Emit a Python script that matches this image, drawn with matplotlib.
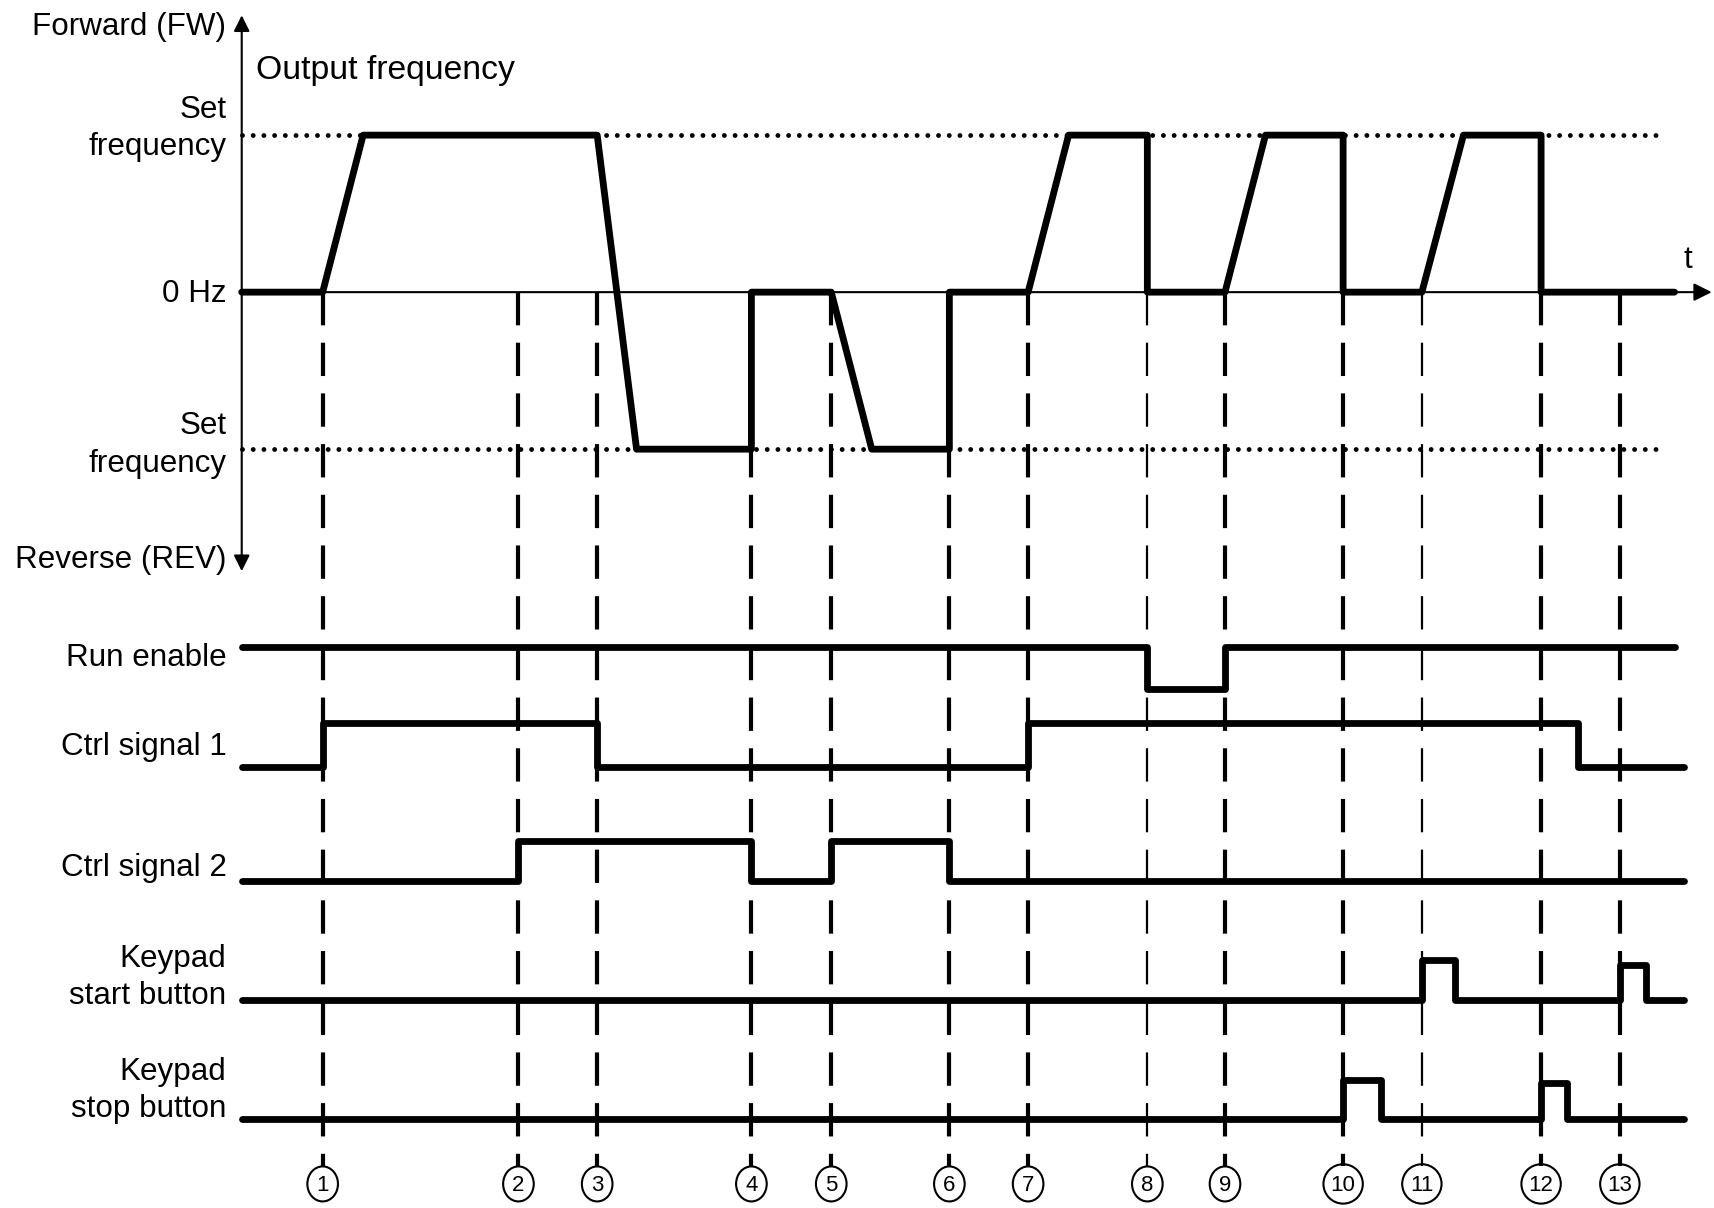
import matplotlib
matplotlib.use('Agg')
import matplotlib.pyplot as plt
from matplotlib.patches import Ellipse

plt.rcParams['font.family'] = ['Liberation Sans', 'DejaVu Sans']
plt.rcParams['lines.scale_dashes'] = False

# ---------------- data ----------------
event_labels = ['1', '2', '3', '4', '5', '6', '7', '8', '9', '10', '11', '12', '13']
event_t = [74, 253, 325, 466, 539, 647, 719, 828, 899, 1007, 1079, 1188, 1260]
event_thin = ['8', '11']

# output frequency (+1 = forward set frequency, -1 = reverse set frequency)
freq_t = [0, 74, 111, 325, 361, 466, 466, 539, 576, 647, 647, 719, 756, 828, 828,
          899, 936, 1007, 1007, 1079, 1117, 1188, 1188, 1310]
freq_v = [0, 0, 1, 1, -1, -1, 0, 0, -1, -1, 0, 0, 1, 1, 0,
          0, 1, 1, 0, 0, 1, 1, 0, 0]
set_freq_end = 1297

# digital signals (step-post)
run_t = [0, 828, 899, 1310]
run_v = [1, 0, 1, 1]
ctrl1_t = [0, 74, 325, 719, 1222, 1319]
ctrl1_v = [0, 1, 0, 1, 0, 0]
ctrl2_t = [0, 253, 466, 539, 647, 1319]
ctrl2_v = [0, 1, 0, 1, 0, 0]
start_t = [0, 1079, 1109, 1260, 1284, 1319]
start_v = [0, 1, 0, 0.86, 0, 0]
stop_t = [0, 1007, 1042, 1188, 1212, 1319]
stop_v = [0, 1, 0, 0.93, 0, 0]

signal_labels = ['Run enable', 'Ctrl signal 1', 'Ctrl signal 2',
                 'Keypad\nstart button', 'Keypad\nstop button']

# ---------------- layout (in display pixel units of a 1568x1104 canvas) ----------------
W, H = 1568, 1104
T0 = 221
XLIM = (-T0, W - T0)
ZERO_Y = 267
FREQ_SCALE = 143.5
rows = [(630, 591), (701, 661), (805, 769), (914, 877), (1023, 987)]  # (low y, high y)
label_y = [601.5, 682.5, 793.5, 893.5, 996.5]
LABEL_X = -14
FS = 22.6
LS = 1.33
LW_THICK = 4.9

fig = plt.figure(figsize=(17.15, 12.08), dpi=100)


def full_axes(ylim):
    ax = fig.add_axes([0, 0, 1, 1])
    ax.set_xlim(*XLIM)
    ax.set_ylim(*ylim)
    ax.axis('off')
    ax.patch.set_alpha(0)
    return ax


# overlay axes: y in canvas pixels (downwards)
ov = full_axes((H, 0))

# y axis with arrows both ways
ov.annotate('', xy=(0, 14), xytext=(0, ZERO_Y),
            arrowprops=dict(arrowstyle='-|>', lw=1.5, color='black', mutation_scale=24,
                            shrinkA=0, shrinkB=0))
ov.annotate('', xy=(0, 522), xytext=(0, ZERO_Y),
            arrowprops=dict(arrowstyle='-|>', lw=1.5, color='black', mutation_scale=24,
                            shrinkA=0, shrinkB=0))

# dashed event lines and numbered circles
for lab, t in zip(event_labels, event_t):
    thin = lab in event_thin
    ov.plot([t, t], [ZERO_Y, 1066], color='black', lw=1.6 if thin else 3.0,
            linestyle=(0, (24, 12.5)), solid_capstyle='butt', zorder=2)
    w, h = (28, 32) if len(lab) == 1 else (36, 36)
    ov.add_patch(Ellipse((t, 1082), w, h, fill=False, lw=1.5, edgecolor='black'))
    ov.text(t, 1083, lab, ha='center', va='center', fontsize=16)

# text labels
ov.text(LABEL_X, 24.5, 'Forward (FW)', ha='right', va='center', fontsize=FS)
ov.text(13, 64, 'Output frequency', ha='left', va='center', fontsize=24.3)
ov.text(LABEL_X, 117.5, 'Set\nfrequency', ha='right', va='center', fontsize=FS,
        multialignment='right', linespacing=LS)
ov.text(LABEL_X, 269, '0 Hz', ha='right', va='center', fontsize=FS)
ov.text(LABEL_X, 406.5, 'Set\nfrequency', ha='right', va='center', fontsize=FS,
        multialignment='right', linespacing=LS)
ov.text(LABEL_X, 512, 'Reverse (REV)', ha='right', va='center', fontsize=FS)
for lab, y in zip(signal_labels, label_y):
    ov.text(LABEL_X, y, lab, ha='right', va='center', fontsize=FS,
            multialignment='right', linespacing=LS)
ov.text(1322, 238, 't', ha='center', va='center', fontsize=FS)

# frequency axes
fa = full_axes(((ZERO_Y - H) / FREQ_SCALE, ZERO_Y / FREQ_SCALE))
for lvl in (1, -1):
    fa.plot([0, set_freq_end], [lvl, lvl], color='black', lw=3.5,
            linestyle=(0, (0.01, 7.7)), dash_capstyle='round', zorder=1)
fa.annotate('', xy=(1344, 0), xytext=(0, 0),
            arrowprops=dict(arrowstyle='-|>', lw=1.5, color='black', mutation_scale=27,
                            shrinkA=0, shrinkB=0))
fa.plot(freq_t, freq_v, color='black', lw=LW_THICK, solid_capstyle='round',
        solid_joinstyle='round', zorder=3)

# signal axes
signals = [(run_t, run_v), (ctrl1_t, ctrl1_v), (ctrl2_t, ctrl2_v),
           (start_t, start_v), (stop_t, stop_v)]
for (ts, vs), (ylo, yhi) in zip(signals, rows):
    amp = ylo - yhi
    sa = full_axes(((ylo - H) / amp, ylo / amp))
    sa.plot(ts, vs, drawstyle='steps-post', color='black', lw=LW_THICK,
            solid_capstyle='round', solid_joinstyle='round')

fig.savefig('out.png', dpi=100)
